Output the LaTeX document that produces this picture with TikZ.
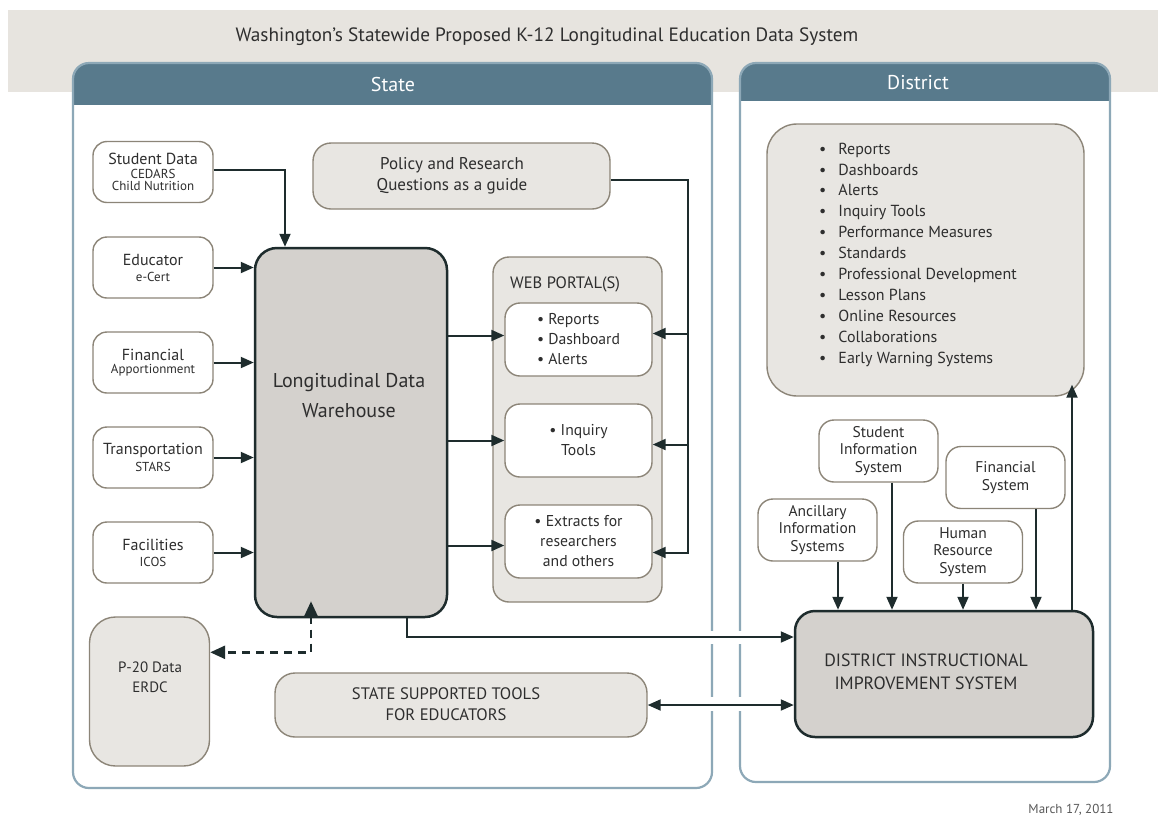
\documentclass[tikz,border=0pt]{standalone}
\usepackage{fontspec}
\setmainfont{PT Sans}
\usetikzlibrary{arrows.meta}
\definecolor{hdr}{HTML}{587A8C}
\definecolor{pnl}{HTML}{8DA8B7}
\definecolor{band}{HTML}{E7E4DF}
\definecolor{beige}{HTML}{E8E6E2}
\definecolor{boxln}{HTML}{8C8578}
\definecolor{ink}{HTML}{1E2C2D}
\definecolor{txt}{HTML}{2E2E2E}
\definecolor{core}{HTML}{D4D1CD}
\newcommand\srcA[1]{{\fontsize{16}{18}\selectfont #1}}
\newcommand\srcB[1]{{\fontsize{13}{15}\selectfont #1}}
\begin{document}
\begin{tikzpicture}[x=1pt,y=-1pt,
  every node/.style={text=txt, inner sep=0pt},
  srcbox/.style={draw=boxln, fill=white, line width=1.4pt, rounded corners=14pt,
    minimum width=120pt, minimum height=61pt, align=center},
  tanbox/.style={draw=boxln, fill=beige, line width=1.4pt, rounded corners=16pt, align=center},
  corebox/.style={draw=ink, fill=core, line width=2.5pt, rounded corners=22pt},
  whitebox/.style={draw=boxln, fill=white, line width=1.4pt, rounded corners=15pt, align=center},
  distbox/.style={draw=boxln, fill=white, line width=1.4pt, rounded corners=15pt, align=center,
    minimum width=119pt, minimum height=62pt, font=\fontsize{15.5}{17.5}\selectfont},
  arr/.style={draw=ink, line width=2pt, -{Triangle[length=13pt,width=11pt]}},
  darr/.style={draw=ink, line width=2pt, {Triangle[length=13pt,width=11pt]}-{Triangle[length=13pt,width=11pt]}},
  ln/.style={draw=ink, line width=2pt},
  hdrtxt/.style={text=white, font=\fontsize{20}{22}\selectfont},
  panelborder/.style={draw=pnl, line width=2.2pt, rounded corners=16pt}
]
\useasboundingbox (0,0) rectangle (1158,820);
\fill[white] (0,0) rectangle (1158,820);
% title band
\fill[band] (8,10) rectangle (1158,92);
\node[font=\fontsize{19.3}{21}\selectfont] (title) at (547,37)
  {Washington’s Statewide Proposed K-12 Longitudinal Education Data System};

% State panel
\begin{scope}
  \clip[rounded corners=16pt] (73,63) rectangle (712,788);
  \fill[white] (73,63) rectangle (712,788);
  \fill[hdr] (73,63) rectangle (712,105);
\end{scope}
\draw[panelborder] (73,63) rectangle (712,788);
\node[hdrtxt] (statehdr) at (393,84) {State};

% District panel
\begin{scope}
  \clip[rounded corners=16pt] (740,63) rectangle (1110,782);
  \fill[white] (740,63) rectangle (1110,782);
  \fill[hdr] (740,63) rectangle (1110,101);
\end{scope}
\draw[panelborder] (740,63) rectangle (1110,782);
\node[hdrtxt] (disthdr) at (918,83) {District};

% gaps in the panel borders where connectors cross
\fill[white] (704,631) rectangle (748,644);
\fill[white] (704,697) rectangle (748,711);

% data sources
\node[srcbox] (sd) at (153,172) {\srcA{Student Data}\\[2pt]\srcB{CEDARS}\\\srcB{Child Nutrition}};
\node[srcbox] (ed) at (153,267.5) {\srcA{Educator}\\[4pt]\srcB{e-Cert}};
\node[srcbox] (fin) at (153,362.5) {\srcA{Financial}\\[1.5pt]\srcB{Apportionment}};
\node[srcbox] (tr) at (153,457.5) {\srcA{Transportation}\\[3pt]\srcB{STARS}};
\node[srcbox] (fac) at (153,552.5) {\srcA{Facilities}\\[4pt]\srcB{ICOS}};

% warehouse
\node[corebox, minimum width=192pt, minimum height=369pt] (ldw) at (351,432.5) {};
\node[font=\fontsize{20}{30}\selectfont, align=center] (ldwtxt) at (349,396)
  {Longitudinal Data\\Warehouse};

% policy questions
\node[tanbox, rounded corners=18pt, minimum width=297pt, minimum height=66pt] (pol) at (461.5,176) {};
\node[font=\fontsize{17}{21.5}\selectfont, align=center] (poltxt) at (452,176)
  {Policy and Research\\Questions as a guide};

% web portals
\node[tanbox, minimum width=169pt, minimum height=345pt] (wp) at (577.5,429.5) {};
\node[font=\fontsize{16.5}{18}\selectfont, anchor=west] (wplbl) at (510,284) {WEB PORTAL(S)};
\node[whitebox, minimum width=147pt, minimum height=73pt, align=left,
  font=\fontsize{15.7}{20}\selectfont] (wp1) at (578.5,339.5)
  {• Reports\\• Dashboard\\• Alerts};
\node[whitebox, minimum width=147pt, minimum height=73pt,
  font=\fontsize{15.7}{20}\selectfont] (wp2) at (578.5,440.5)
  {• Inquiry\\Tools};
\node[whitebox, minimum width=147pt, minimum height=73pt,
  font=\fontsize{15.7}{20}\selectfont] (wp3) at (578.5,541.5)
  {• Extracts for\\researchers\\and others};

% P-20 and state tools
\node[tanbox, rounded corners=26pt, minimum width=120pt, minimum height=149pt] (p20) at (149.5,691.5) {};
\node[font=\fontsize{15}{19.5}\selectfont, align=center] (p20txt) at (150,677) {P-20 Data\\ERDC};
\node[tanbox, rounded corners=20pt, minimum width=372pt, minimum height=64pt] (sst) at (461,705) {};
\node[font=\fontsize{16.6}{21.5}\selectfont, align=center] (ssttxt) at (446,704)
  {STATE SUPPORTED TOOLS\\FOR EDUCATORS};

% district items
\node[tanbox, rounded corners=30pt, minimum width=317pt, minimum height=272pt] (list) at (925.5,260) {};
\node[anchor=west, font=\fontsize{16}{20.9}\selectfont] (listtxt) at (819,254.5)
  {\begin{tabular}{@{}l@{\hspace{12pt}}l@{}}
   • & Reports\\ • & Dashboards\\ • & Alerts\\ • & Inquiry Tools\\
   • & Performance Measures\\ • & Standards\\ • & Professional Development\\
   • & Lesson Plans\\ • & Online Resources\\ • & Collaborations\\
   • & Early Warning Systems
   \end{tabular}};

\node[distbox] (sis) at (878.5,451) {Student\\Information\\System};
\node[distbox] (fs) at (1005.5,477.5) {Financial\\System};
\node[distbox] (anc) at (817.5,530) {Ancillary\\Information\\Systems};
\node[distbox] (hr) at (963,552) {Human\\Resource\\System};
\node[corebox, rounded corners=20pt, minimum width=298pt, minimum height=126pt] (diis) at (944,674) {};
\node[font=\fontsize{17.8}{23}\selectfont, align=center] (diistxt) at (926,671.5)
  {DISTRICT INSTRUCTIONAL\\IMPROVEMENT SYSTEM};

% date
\node[font=\fontsize{13}{15}\selectfont, text=black!65] (date) at (1071,810) {March 17, 2011};

% connectors: sources into the warehouse
\draw[arr] ([yshift=2pt]sd.east) -| ([xshift=-66pt]ldw.north);
\draw[arr] (ed.east) -- (ed.east -| ldw.west);
\draw[arr] (fin.east) -- (fin.east -| ldw.west);
\draw[arr] (tr.east) -- (tr.east -| ldw.west);
\draw[arr] (fac.east) -- (fac.east -| ldw.west);

% warehouse to portals
\draw[arr] (ldw.east |- wp1.west) ++(0,-4) -- ([yshift=4pt]wp1.west);
\draw[arr] (ldw.east |- wp2.west) -- (wp2.west);
\draw[arr] (ldw.east |- wp3.west) ++(0,4) -- ([yshift=-4pt]wp3.west);

% policy questions guide the portals
\draw[arr] (pol.east) ++(0,4) -| ([xshift=35pt,yshift=-11pt]wp3.east) -- ([yshift=-11pt]wp3.east);
\draw[arr] ([xshift=35pt,yshift=6pt]wp1.east) -- ([yshift=6pt]wp1.east);
\draw[arr] ([xshift=35pt,yshift=-4pt]wp2.east) -- ([yshift=-4pt]wp2.east);

% warehouse and P-20 (dashed, both ways)
\draw[ln, dashed, dash pattern=on 8pt off 6pt, line width=2.6pt,
  {Triangle[length=15pt,width=13pt]}-{Triangle[length=15pt,width=13pt]}]
  ([xshift=-40pt,yshift=17pt]ldw.south) |- ([yshift=-36pt]p20.north east);

% warehouse to district system
\draw[arr] ([xshift=56pt]ldw.south) |- ([yshift=37pt]diis.west);
% state tools and district system
\draw[darr] (sst.east) -- (sst.east -| diis.west);

% district sources into the district system
\draw[arr] ([xshift=20.5pt]anc.south) -- ([xshift=20.5pt]anc.south |- diis.north);
\draw[arr] ([xshift=13.5pt]sis.south) -- ([xshift=13.5pt]sis.south |- diis.north);
\draw[arr] (hr.south) -- (hr.south |- diis.north);
\draw[arr] ([xshift=30.5pt]fs.south) -- ([xshift=30.5pt]fs.south |- diis.north);
\draw[arr] ([xshift=128pt]diis.north) -- ([xshift=146.5pt,yshift=12pt]list.south);
\end{tikzpicture}
\end{document}
